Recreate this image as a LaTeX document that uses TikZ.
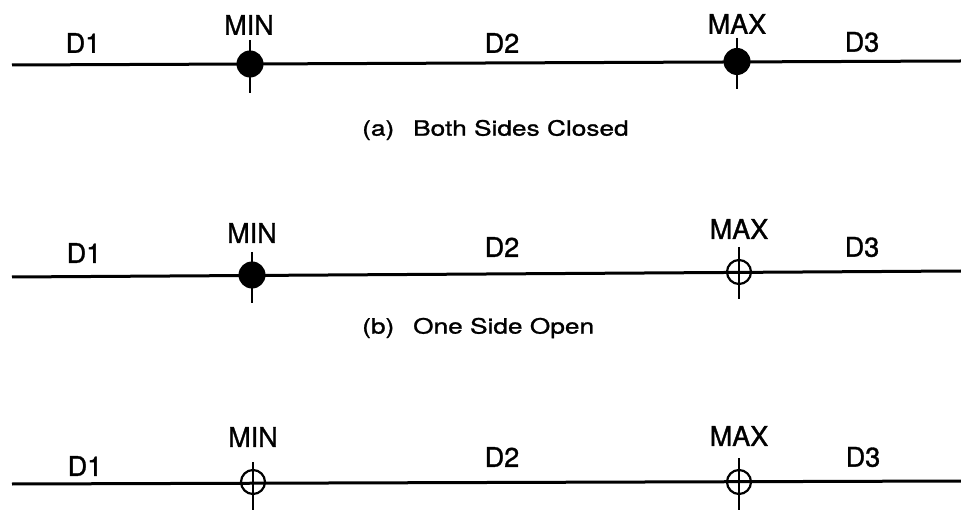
\documentclass[tikz,border=0pt]{standalone}
\usepackage{fontspec}
\setmainfont[FakeBold=1.2]{TeX Gyre Heros}
\newfontfamily\capfont[FakeStretch=1.25,FakeBold=1.2]{TeX Gyre Heros}
\usetikzlibrary{calc}
\begin{document}
\begin{tikzpicture}[x=1pt,y=-1pt,
  axis/.style={line width=3pt},
  tickln/.style={line width=2pt},
  closedpt/.style={circle,fill=black,inner sep=0pt,minimum size=27pt},
  openpt/.style={circle,draw=black,line width=2.2pt,inner sep=0pt,minimum size=24pt},
  lbl/.style={inner sep=0pt,font=\fontsize{27}{30}\selectfont},
  captxt/.style={inner sep=0pt,anchor=west,font=\capfont\fontsize{21}{24}\selectfont}]
\useasboundingbox (0,0) rectangle (961,510);

% ---------- (a) ----------
\coordinate (aL) at (12,65);
\coordinate (aR) at (961,61);
\draw[axis] (aL) -- (aR);
\coordinate (aMinT) at (250,40);
\coordinate (aMinB) at (250,93);
\coordinate (aMaxT) at (737,38);
\coordinate (aMaxB) at (737,89);
\draw[tickln] (aMinT) -- (aMinB);
\draw[tickln] (aMaxT) -- (aMaxB);
\node[closedpt] (aMin) at (250,64) {};
\node[closedpt] (aMax) at (737,61.5) {};
\node[lbl] (aD1) at (83,43) {D1};
\node[lbl] (aMinL) at (249,25) {MIN};
\node[lbl] (aD2) at (502,43) {D2};
\node[lbl] (aMaxL) at (737,24) {MAX};
\node[lbl] (aD3) at (862,42) {D3};
\node[captxt] (aCap) at (362,130) {(a)\hspace{0.9em}Both Sides Closed};

% ---------- (b) ----------
\coordinate (bL) at (12,277);
\coordinate (bR) at (961,271);
\draw[axis] (bL) -- (bR);
\coordinate (bMinT) at (252,252);
\coordinate (bMinB) at (252,303);
\coordinate (bMaxT) at (739,247);
\coordinate (bMaxB) at (739,299);
\draw[tickln] (bMinT) -- (bMinB);
\draw[tickln] (bMaxT) -- (bMaxB);
\node[closedpt] (bMin) at (252,275) {};
\node[openpt] (bMax) at (739,272) {};
\node[lbl] (bD1) at (84,253) {D1};
\node[lbl] (bMinL) at (252,233) {MIN};
\node[lbl] (bD2) at (502,247) {D2};
\node[lbl] (bMaxL) at (739,229) {MAX};
\node[lbl] (bD3) at (862,247) {D3};
\node[captxt] (bCap) at (362,328) {(b)\hspace{0.9em}One Side Open};

% ---------- (c) ----------
\coordinate (cL) at (12,484);
\coordinate (cR) at (961,481);
\draw[axis] (cL) -- (cR);
\coordinate (cMinT) at (253,462);
\coordinate (cMinB) at (253,510);
\coordinate (cMaxT) at (739,458);
\coordinate (cMaxB) at (739,510);
\draw[tickln] (cMinT) -- (cMinB);
\draw[tickln] (cMaxT) -- (cMaxB);
\node[openpt] (cMin) at (253,482) {};
\node[openpt] (cMax) at (739,482) {};
\node[lbl] (cD1) at (85,466) {D1};
\node[lbl] (cMinL) at (253,437) {MIN};
\node[lbl] (cD2) at (502,457) {D2};
\node[lbl] (cMaxL) at (739,436) {MAX};
\node[lbl] (cD3) at (863,457) {D3};
\end{tikzpicture}
\end{document}
